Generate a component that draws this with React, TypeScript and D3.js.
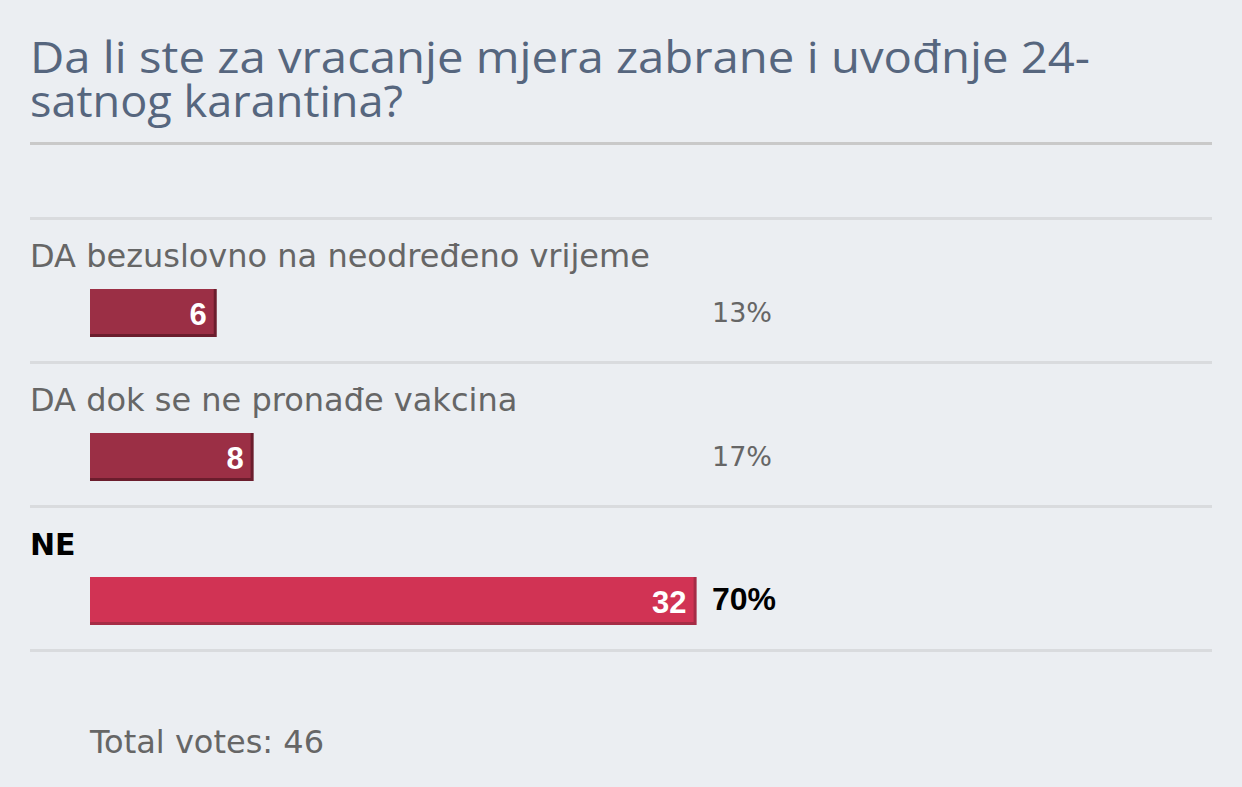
import React from "react";
import * as d3 from "d3";

const titleLines = ["Da li ste za vracanje mjera zabrane i uvođnje 24-", "satnog karantina?"];
const options = ["DA bezuslovno na neodređeno vrijeme", "DA dok se ne pronađe vakcina", "NE"];
const votes = [6, 8, 32];
const percents = ["13%", "17%", "70%"];
const winner = [false, false, true];
const totalLabel = "Total votes: 46";

const W = 1242;
const H = 787;

export default function App() {
  const total = d3.sum(votes);
  const barScale = d3.scaleLinear().domain([0, total]).range([16, 16 + 849]);
  const rowScale = d3.scaleBand<number>().domain(d3.range(options.length)).range([218, 218 + 144 * options.length]);

  return (
    <div style={{ position: "fixed", left: 0, top: 0 }}>
      <svg width={W} height={H} style={{ display: "block" }}>
        <rect x={0} y={0} width={W} height={H} fill="#ebeef2" />
        {titleLines.map((t, i) => (
          <text
            key={i}
            x={30}
            y={73 + i * 44}
            fill="#56667e"
            fontFamily="'Open Sans', 'Noto Sans', sans-serif"
            fontSize={43}
            textLength={i === 0 ? 1060 : 373}
            lengthAdjust="spacingAndGlyphs"
          >
            {t}
          </text>
        ))}
        <rect x={30} y={142} width={1182} height={3} fill="#c9c9c9" />
        {options.map((opt, i) => {
          const y0 = rowScale(i)!;
          const w = barScale(votes[i]);
          const barTop = y0 + 71;
          const barH = 48;
          const dark = winner[i] ? "#d13354" : "#9b2f45";
          const shadow = winner[i] ? "#a62c46" : "#6b1d2d";
          return (
            <g key={i}>
              <rect x={30} y={y0 - 1} width={1182} height={3} fill="#d9dbde" />
              <text
                x={30}
                y={y0 + 49}
                fill={winner[i] ? "#000" : "#666"}
                fontFamily="'DejaVu Sans', Verdana, sans-serif"
                fontWeight={winner[i] ? "bold" : "normal"}
                fontSize={winner[i] ? 30 : 32}
              >
                {opt}
              </text>
              <rect x={90} y={barTop} width={w} height={barH} fill={shadow} />
              <rect x={90} y={barTop} width={w - 3} height={barH - 3} fill={dark} />
              <text
                x={90 + w - 10}
                y={barTop + 36}
                textAnchor="end"
                fill="#fff"
                fontFamily="'Liberation Sans', Arial, sans-serif"
                fontWeight="bold"
                fontSize={31}
              >
                {votes[i]}
              </text>
              <text
                x={712}
                y={barTop + 33}
                fill={winner[i] ? "#000" : "#666"}
                fontFamily={winner[i] ? "'Liberation Sans', Arial, sans-serif" : "'DejaVu Sans', Verdana, sans-serif"}
                fontWeight={winner[i] ? "bold" : "normal"}
                fontSize={winner[i] ? 32 : 27}
              >
                {percents[i]}
              </text>
            </g>
          );
        })}
        <rect x={30} y={649} width={1182} height={3} fill="#d9dbde" />
        <text x={90} y={753} fill="#666" fontFamily="'DejaVu Sans', Verdana, sans-serif" fontSize={32}>
          {totalLabel}
        </text>
      </svg>
    </div>
  );
}
